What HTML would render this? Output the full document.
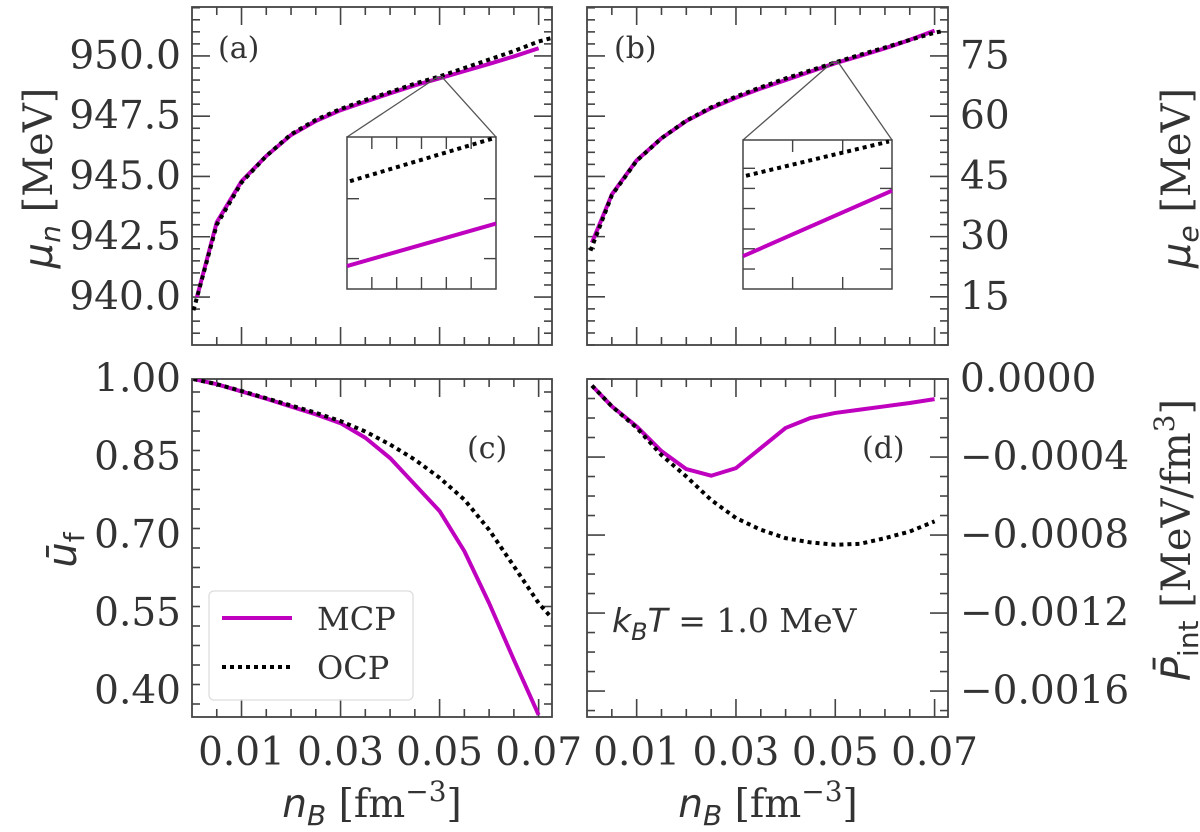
<!DOCTYPE html>
<html><head><meta charset="utf-8"><style>
html,body{margin:0;padding:0;background:#fff;}
svg{display:block;}
text{font-family:"DejaVu Serif","Liberation Serif",serif;fill:#333;}
</style></head><body>
<svg id="fig" width="1200" height="832" viewBox="0 0 1200 832" xmlns="http://www.w3.org/2000/svg">
<defs>
<clipPath id="clipA"><rect x="192" y="7" width="360" height="338"/></clipPath>
<clipPath id="clipB"><rect x="587" y="7" width="361" height="338"/></clipPath>
<clipPath id="clipC"><rect x="192" y="379" width="360" height="338"/></clipPath>
<clipPath id="clipD"><rect x="587" y="379" width="361" height="338"/></clipPath>
</defs>
<g id="root"></g>
</svg>
<script>
// ---- data ----
const xsMain = [0.001,0.005,0.01,0.015,0.02,0.025,0.03,0.035,0.04,0.045,0.05,0.055,0.06,0.065,0.07];
const muN_MCP = [940.0,943.1,944.8,945.85,946.72,947.3,947.75,948.1,948.45,948.78,949.07,949.37,949.67,949.98,950.32];
const xsMuN_OCP = [0.0003,0.005,0.01,0.015,0.02,0.025,0.03,0.035,0.04,0.045,0.05,0.055,0.06,0.065,0.07,0.0727];
const muN_OCP = [939.45,943.0,944.75,945.85,946.75,947.35,947.8,948.17,948.5,948.85,949.15,949.5,949.85,950.2,950.6,950.75];
const muE_MCP = [28.5,40.5,49.0,54.5,58.8,62.0,64.6,66.9,69.0,71.1,73.2,75.0,76.9,79.0,81.3];
const xsMuE_OCP = [0.0007,0.005,0.01,0.015,0.02,0.025,0.03,0.035,0.04,0.045,0.05,0.055,0.06,0.065,0.07,0.0717];
const muE_OCP = [26.5,40.3,48.9,54.5,58.9,62.2,64.9,67.2,69.4,71.4,73.4,75.3,77.1,79.0,80.8,81.2];
const xsU_MCP = [0.0003,0.005,0.01,0.015,0.02,0.025,0.03,0.035,0.04,0.045,0.05,0.055,0.06,0.065,0.07];
const u_MCP = [1.0,0.99,0.976,0.962,0.947,0.932,0.915,0.887,0.848,0.797,0.746,0.669,0.569,0.46,0.354];
const xsU_OCP = [0.0003,0.005,0.01,0.015,0.02,0.025,0.03,0.035,0.04,0.045,0.05,0.055,0.06,0.065,0.07,0.0727];
const u_OCP = [1.0,0.99,0.977,0.963,0.949,0.935,0.919,0.899,0.874,0.845,0.81,0.768,0.71,0.64,0.569,0.54];
const p_MCP = [-0.000034,-0.00014,-0.000243,-0.00037,-0.000462,-0.000496,-0.000457,-0.000354,-0.000251,-0.0002,-0.000174,-0.000157,-0.00014,-0.000123,-0.000103];
const p_OCP = [-0.000034,-0.00014,-0.00025,-0.00039,-0.0005,-0.00062,-0.000713,-0.000773,-0.000816,-0.000838,-0.00085,-0.000845,-0.000816,-0.000782,-0.00073];
const xTickVals = [0.01,0.03,0.05,0.07];
const xTickLabels = ["0.01","0.03","0.05","0.07"];
const aTickVals = [940,942.5,945,947.5,950];
const aTickLabels = ["940.0","942.5","945.0","947.5","950.0"];
const bTickVals = [15,30,45,60,75];
const bTickLabels = ["15","30","45","60","75"];
const cTickVals = [0.40,0.55,0.70,0.85,1.00];
const cTickLabels = ["0.40","0.55","0.70","0.85","1.00"];
const dTickVals = [-0.0016,-0.0012,-0.0008,-0.0004,0];
const dTickLabels = ["\u22120.0016","\u22120.0012","\u22120.0008","\u22120.0004","0.0000"];
// insets
const insetAX = [0.049,0.051];
const insetA_MCP = [948.965,949.085];
const insetA_OCP = [949.205,949.326];
const insetBX = [0.049,0.051];
const insetB_MCP = [72.62,73.06];
const insetB_OCP = [73.16,73.39];

const NS="http://www.w3.org/2000/svg";
const root=document.getElementById('root');
function mk(tag,attrs,parent){const e=document.createElementNS(NS,tag);for(const k in attrs)e.setAttribute(k,attrs[k]);(parent||root).appendChild(e);return e;}
function lin(d0,d1,p0,p1){return v=>p0+(v-d0)/(d1-d0)*(p1-p0);}

function panel(id,x0,x1,y0,y1,ylim,yMajor,yLabels,yMinorStep,labelSide,showX){
  const g=mk('g',{});
  
  
  const sx=lin(0,0.0727,x0,x1), sy=lin(ylim[0],ylim[1],y1,y0);
  const tk={stroke:'#444','stroke-width':1.6};
  // x ticks
  for(let i=1;i*0.005<=0.0727;i++){
    const v=i*0.005, X=sx(v); const major=xTickVals.some(t=>Math.abs(t-v)<1e-9);
    const L=major?18:8;
    mk('line',Object.assign({x1:X,x2:X,y1:y1,y2:y1-L},tk),g);
    mk('line',Object.assign({x1:X,x2:X,y1:y0,y2:y0+L},tk),g);
  }
  // y minor
  const start=Math.ceil(ylim[0]/yMinorStep-1e-6);
  for(let k=start;k*yMinorStep<=ylim[1]+1e-12;k++){
    const v=k*yMinorStep, Y=sy(v);
    const major=yMajor.some(t=>Math.abs(t-v)<yMinorStep*0.01);
    const L=major?18:8;
    mk('line',Object.assign({x1:x0,x2:x0+L,y1:Y,y2:Y},tk),g);
    mk('line',Object.assign({x1:x1,x2:x1-L,y1:Y,y2:Y},tk),g);
  }
  mk('rect',{x:x0,y:y0,width:x1-x0,height:y1-y0,fill:'none',stroke:'#444','stroke-width':1.8},g);
  // y labels
  yMajor.forEach((v,i)=>{
    const t=mk('text',{x:labelSide==='left'?x0-11:x1+12,y:sy(v),'font-size':39,'text-anchor':labelSide==='left'?'end':'start','dominant-baseline':'central'},g);
    t.textContent=yLabels[i];
    
    
  });
  if(showX){
    xTickVals.forEach((v,i)=>{
      const t=mk('text',{x:sx(v),y:765,'font-size':39,'text-anchor':'middle'},g);
      t.textContent=xTickLabels[i];
      
      
    });
  }
  return {g,sx,sy};
}
function series(p,xs,ys,clip,kind,name){
  const d=xs.map((x,i)=>(i?'L':'M')+p.sx(x).toFixed(2)+','+p.sy(ys[i]).toFixed(2)).join(' ');
  const a={d:d,fill:'none','clip-path':'url(#'+clip+')'};
  if(kind==='mcp'){a.stroke='#bf00bf';a['stroke-width']=4;a['stroke-linejoin']='round';}
  else{a.stroke='#000';a['stroke-width']=4;a['stroke-dasharray']='4 4';}
  const e=mk('path',a,p.g);
  
  
  return e;
}
function inset(p,apexX,apexY,bx0,bx1,by0,by1,ix,ylim,mcp,ocp,xt,yt,name){
  const g=mk('g',{},p.g);
  
  
  const ax=p.sx(apexX), ay=p.sy(apexY);
  mk('line',{x1:ax-3,y1:ay,x2:bx0,y2:by0,stroke:'#555','stroke-width':1.3},g);
  mk('line',{x1:ax+3,y1:ay,x2:bx1,y2:by0,stroke:'#555','stroke-width':1.3},g);
  mk('rect',{x:ax-3,y:ay-1,width:6,height:2,fill:'none',stroke:'#555','stroke-width':1},g);
  mk('rect',{x:bx0,y:by0,width:bx1-bx0,height:by1-by0,fill:'#fff',stroke:'#444','stroke-width':1.5},g);
  xt.forEach(f=>{const X=bx0+f*(bx1-bx0);
    mk('line',{x1:X,x2:X,y1:by0,y2:by0+12,stroke:'#444','stroke-width':1.4},g);
    mk('line',{x1:X,x2:X,y1:by1,y2:by1-12,stroke:'#444','stroke-width':1.4},g);});
  yt.forEach(f=>{const Y=by0+f*(by1-by0);
    mk('line',{x1:bx0,x2:bx0+12,y1:Y,y2:Y,stroke:'#444','stroke-width':1.4},g);
    mk('line',{x1:bx1,x2:bx1-12,y1:Y,y2:Y,stroke:'#444','stroke-width':1.4},g);});
  const sx=lin(ix[0],ix[1],bx0,bx1), sy=lin(ylim[0],ylim[1],by1,by0);
  const l1=mk('line',{x1:sx(ix[0]),y1:sy(mcp[0]),x2:sx(ix[1]),y2:sy(mcp[1]),stroke:'#bf00bf','stroke-width':4},g);
  
  
  const l2=mk('line',{x1:sx(ix[0])+3,y1:sy(ocp[0]),x2:sx(ix[1])-3,y2:sy(ocp[1]),stroke:'#000','stroke-width':4,'stroke-dasharray':'4 4'},g);
  
  
}
function txt(x,y,s,size,name,extra){const t=mk('text',Object.assign({x:x,y:y,'font-size':size},extra||{}));t.textContent=s;
  
  return t;}

// Panel a
const pa=panel('a',192,552,7,345,[938.01,952.03],aTickVals,aTickLabels,0.5,'left',false);
series(pa,xsMain,muN_MCP,'clipA','mcp','mcp-line-a');
series(pa,xsMuN_OCP,muN_OCP,'clipA','ocp','ocp-line-a');
inset(pa,0.05,949.1,347,496,137,289,insetAX,[948.9,949.33],insetA_MCP,insetA_OCP,[1/6,2/6,3/6,4/6,5/6],[0.406,0.8],'inset-a');
txt(218,58,'(a)',30,'panel-label-a');
// Panel b
const pb=panel('b',587,948,7,345,[3.0,87.2],bTickVals,bTickLabels,3,'right',false);
series(pb,xsMain,muE_MCP,'clipB','mcp','mcp-line-b');
series(pb,xsMuE_OCP,muE_OCP,'clipB','ocp','ocp-line-b');
inset(pb,0.05,73.4,743,892,140,289,insetBX,[72.4,73.4],insetB_MCP,insetB_OCP,[0.333,0.669],[0.19,0.325,0.46,0.598,0.73,0.866],'inset-b');
txt(614,58,'(b)',30,'panel-label-b');
// Panel c
const pc=panel('c',192,552,379,717,[0.35,1.0],cTickVals,cTickLabels,0.0375,'left',true);
series(pc,xsU_MCP,u_MCP,'clipC','mcp','mcp-line-c');
series(pc,xsU_OCP,u_OCP,'clipC','ocp','ocp-line-c');
txt(467,458,'(c)',30,'panel-label-c');
// Panel d
const pd=panel('d',587,948,379,717,[-0.001733,0],dTickVals,dTickLabels,0.0001,'right',true);
series(pd,xsMain,p_MCP,'clipD','mcp','mcp-line-d');
series(pd,xsMain,p_OCP,'clipD','ocp','ocp-line-d');
txt(862,458,'(d)',30,'panel-label-d');

// legend
const lg=mk('g',{});


mk('rect',{x:209,y:591,width:204,height:109,rx:5,fill:'#fff','fill-opacity':0.8,stroke:'#ddd','stroke-width':1.3},lg);
const le1=mk('line',{x1:222,x2:292,y1:618,y2:618,stroke:'#bf00bf','stroke-width':4},lg);


const le2=mk('line',{x1:222,x2:292,y1:667,y2:667,stroke:'#000','stroke-width':4,'stroke-dasharray':'4 4'},lg);


const lt1=mk('text',{x:317,y:630,'font-size':32},lg);lt1.textContent='MCP';


const lt2=mk('text',{x:317,y:679,'font-size':32},lg);lt2.textContent='OCP';



// kBT annotation
const kt=mk('text',{x:612,y:632,'font-size':33});


kt.innerHTML='<tspan font-family="DejaVu Sans" font-style="italic">k</tspan><tspan font-family="DejaVu Sans" font-style="italic" font-size="24" dy="8">B</tspan><tspan font-family="DejaVu Sans" font-style="italic" dy="-8">T</tspan> = 1.0 MeV';

// axis titles
function xTitle(cx,name){const t=mk('text',{x:cx,y:817,'font-size':39,'text-anchor':'middle'});
  
  
  t.innerHTML='<tspan font-family="DejaVu Sans" font-style="italic">n</tspan><tspan font-family="DejaVu Sans" font-style="italic" font-size="28" dy="8">B</tspan><tspan dy="-8"> [fm</tspan><tspan font-size="28" dy="-16">\u22123</tspan><tspan dy="16">]</tspan>';}
xTitle(372,'x-axis-title-left');
xTitle(768,'x-axis-title-right');
function yTitle(x,cy,html,name){const t=mk('text',{x:0,y:0,'font-size':40,'text-anchor':'middle',transform:'translate('+x+','+cy+') rotate(-90)'});
  
  
  t.innerHTML=html;}
yTitle(52,178,'<tspan font-family="DejaVu Sans" font-style="italic">\u03bc</tspan><tspan font-family="DejaVu Sans" font-style="italic" font-size="28" dy="8">n</tspan><tspan dy="-8"> [MeV]</tspan>','y-axis-title-mu-n');
yTitle(76,550,'<tspan font-family="DejaVu Sans" font-style="italic">\u016b</tspan><tspan font-family="DejaVu Sans" font-size="28" dy="8">f</tspan>','y-axis-title-u-f');
yTitle(1190,178,'<tspan font-family="DejaVu Sans" font-style="italic">\u03bc</tspan><tspan font-family="DejaVu Sans" font-style="italic" font-size="28" dy="8">e</tspan><tspan dy="-8"> [MeV]</tspan>','y-axis-title-mu-e');
yTitle(1190,540,'<tspan font-family="DejaVu Sans" font-style="italic">P\u0304</tspan><tspan font-family="DejaVu Sans" font-size="28" dy="8">int</tspan><tspan dy="-8"> [MeV/fm</tspan><tspan font-size="28" dy="-16">3</tspan><tspan dy="16">]</tspan>','y-axis-title-p-int');
</script>
</body></html>
